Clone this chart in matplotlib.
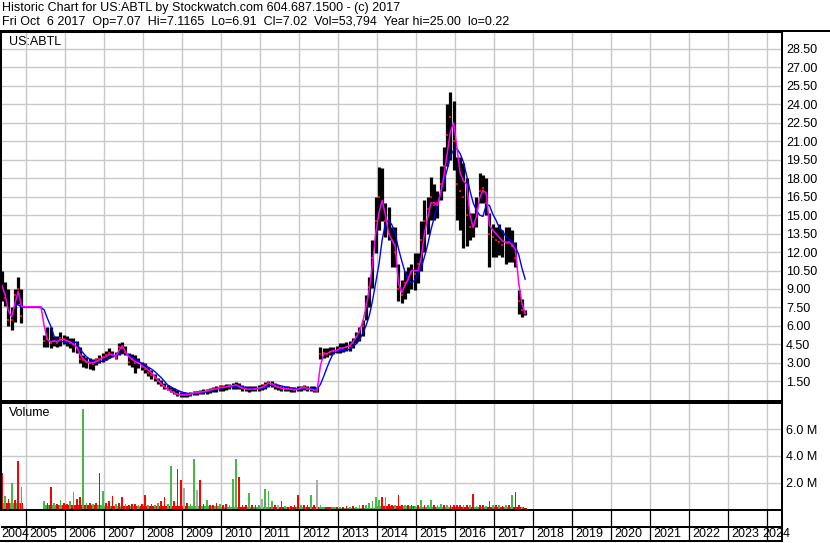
import numpy as np
import pandas as pd
import matplotlib
matplotlib.use('Agg')
import matplotlib.pyplot as plt
from matplotlib.lines import Line2D

nan = np.nan

# monthly bars, May 2004 .. Oct 2017
months = pd.date_range('2004-05-01', '2017-10-01', freq='MS')

high = [
    10.5, 9.6, 9.0, 7.5, 9.0, 10.0, 9.0, nan,
    nan, nan, nan, nan, nan, 5.3, 5.9, 5.9, 5.2, 5.2, 5.5, 5.3,
    5.2, 5.0, 5.0, 4.8, 4.3, 3.6, 3.5, 3.4, 3.3, 3.4, 3.6, 3.8,
    4.0, 4.2, 4.0, 3.9, 4.6, 4.7, 4.4, 3.8, 3.7, 3.6, 3.4, 3.1,
    3.0, 2.7, 2.4, 2.1, 1.8, 1.6, 1.4, 1.2, 1.0, 0.96, 0.8, 0.65,
    0.6, 0.55, 0.6, 0.7, 0.75, 0.8, 0.85, 0.9, 0.95, 1.0, 1.1, 1.2,
    1.2, 1.25, 1.3, 1.35, 1.42, 1.35, 1.2, 1.1, 1.1, 1.1, 1.1, 1.2,
    1.3, 1.45, 1.55, 1.5, 1.35, 1.2, 1.15, 1.1, 1.1, 1.05, 1.05, 1.1,
    1.15, 1.2, 1.15, 1.1, 1.1, 1.0, 4.3, 4.2, 4.2, 4.3, 4.3, 4.4,
    4.6, 4.6, 4.7, 4.8, 5.0, 5.5, 5.9, 6.5, 8.5, 10.0, 13.0, 16.5,
    18.9, 18.8, 16.0, 15.7, 14.0, 14.0, 11.0, 9.7, 10.5, 10.8, 11.0, 11.9,
    11.9, 14.5, 16.2, 16.5, 18.1, 17.5, 17.0, 19.0, 20.5, 24.0, 25.0, 24.3,
    19.7, 19.7, 19.2, 18.0, 15.2, 15.2, 16.5, 18.4, 18.3, 18.0, 15.2, 14.3,
    14.0, 14.3, 13.8, 14.0, 14.0, 13.8, 12.8, 8.9, 8.2, 7.3]

low = [
    8.0, 7.6, 6.0, 5.7, 6.3, 7.8, 6.2, nan,
    nan, nan, nan, nan, nan, 4.3, 4.3, 4.2, 4.4, 4.3, 4.4, 4.5,
    4.4, 4.2, 3.9, 3.8, 3.0, 2.7, 2.6, 2.5, 2.4, 2.8, 3.0, 3.1,
    3.2, 3.4, 3.5, 3.3, 3.6, 3.8, 3.6, 2.8, 2.7, 2.2, 2.6, 2.4,
    2.2, 1.9, 1.7, 1.5, 1.3, 1.1, 0.9, 0.8, 0.66, 0.45, 0.3, 0.22,
    0.22, 0.25, 0.3, 0.35, 0.4, 0.45, 0.5, 0.5, 0.55, 0.6, 0.65, 0.7,
    0.75, 0.8, 0.85, 0.9, 0.9, 0.85, 0.75, 0.7, 0.65, 0.7, 0.7, 0.75,
    0.8, 0.9, 1.0, 1.0, 0.9, 0.8, 0.75, 0.7, 0.7, 0.65, 0.65, 0.7,
    0.75, 0.8, 0.75, 0.7, 0.65, 0.6, 3.3, 3.4, 3.5, 3.6, 3.7, 3.8,
    3.8, 3.9, 4.0, 4.0, 4.2, 4.6, 4.8, 5.2, 6.5, 7.5, 9.1, 11.9,
    13.8, 14.5, 13.2, 13.0, 10.8, 10.8, 8.0, 7.9, 8.2, 8.7, 9.0, 8.9,
    9.5, 10.5, 12.0, 13.5, 14.6, 14.6, 14.8, 16.2, 17.0, 19.0, 19.5, 18.7,
    14.6, 13.8, 12.3, 12.5, 13.0, 13.2, 14.0, 16.0, 16.0, 15.0, 10.8, 11.6,
    11.6, 11.8, 11.6, 11.0, 11.2, 11.2, 10.8, 7.0, 6.7, 6.9]

close = [
    9.2, 8.3, 6.5, 6.5, 8.5, 9.0, 6.8, nan,
    nan, nan, nan, nan, nan, 4.8, 4.9, 4.6, 4.8, 4.6, 5.0, 4.9,
    4.8, 4.6, 4.5, 4.2, 3.3, 3.2, 3.1, 3.0, 2.9, 3.2, 3.3, 3.5,
    3.6, 3.8, 3.6, 3.4, 4.3, 4.2, 3.8, 3.1, 3.3, 3.0, 3.0, 2.7,
    2.5, 2.2, 2.0, 1.8, 1.5, 1.3, 1.1, 0.95, 0.8, 0.6, 0.5, 0.4,
    0.35, 0.4, 0.45, 0.55, 0.6, 0.6, 0.65, 0.7, 0.8, 0.85, 0.9, 1.0,
    1.0, 1.05, 1.1, 1.15, 1.2, 1.05, 0.95, 0.85, 0.85, 0.85, 0.9, 0.95,
    1.0, 1.2, 1.35, 1.25, 1.1, 1.0, 0.95, 0.9, 0.9, 0.85, 0.8, 0.85,
    0.95, 1.0, 0.9, 0.85, 0.8, 0.75, 3.7, 3.8, 3.7, 3.9, 4.0, 4.0,
    4.2, 4.2, 4.3, 4.4, 4.6, 5.1, 5.5, 6.0, 7.8, 9.2, 11.5, 14.5,
    16.5, 16.0, 14.5, 13.5, 13.0, 12.0, 9.0, 8.5, 9.5, 10.0, 10.3, 10.2,
    11.0, 13.0, 14.5, 15.5, 16.5, 15.8, 16.0, 17.5, 19.0, 21.5, 23.0, 21.0,
    17.5, 17.0, 16.5, 15.0, 14.0, 14.2, 15.5, 17.0, 17.2, 16.0, 13.5, 13.2,
    13.0, 12.8, 12.6, 12.7, 12.8, 12.5, 11.5, 8.0, 7.3, 7.02]

# magenta (short) and blue (long) averages
ma_short = [
    9.3, 8.5, 7.2, 6.75, 7.8, 8.8, 7.6, 7.56,
    7.56, 7.56, 7.56, 7.56, 7.56, 6.0, 4.9, 4.7, 4.8, 4.7, 4.9, 4.9,
    4.8, 4.7, 4.5, 4.3, 3.7, 3.3, 3.1, 3.05, 3.0, 3.1, 3.25, 3.4,
    3.5, 3.7, 3.7, 3.5, 4.0, 4.4, 3.9, 3.5, 3.3, 3.1, 3.0, 2.8,
    2.6, 2.4, 2.2, 1.9, 1.6, 1.3, 1.05, 0.85, 0.7, 0.55, 0.45, 0.4,
    0.4, 0.42, 0.45, 0.55, 0.6, 0.62, 0.66, 0.7, 0.8, 0.85, 0.9, 0.98,
    1.0, 1.05, 1.1, 1.15, 1.2, 1.1, 0.95, 0.88, 0.85, 0.85, 0.9, 0.95,
    1.0, 1.15, 1.35, 1.3, 1.15, 1.0, 0.95, 0.9, 0.9, 0.85, 0.82, 0.85,
    0.95, 1.0, 0.92, 0.85, 0.8, 0.78, 2.8, 3.7, 3.75, 3.9, 4.0, 4.0,
    4.2, 4.2, 4.3, 4.4, 4.7, 5.1, 5.6, 6.3, 7.5, 8.9, 11.0, 13.5,
    15.2, 16.2, 15.0, 13.5, 13.0, 12.5, 9.5, 8.7, 9.3, 9.8, 10.5, 10.5,
    10.5, 11.5, 13.5, 14.8, 16.0, 16.0, 15.8, 16.8, 18.2, 20.0, 21.8, 22.5,
    20.5, 18.4, 17.8, 17.5, 15.0, 14.0, 14.9, 16.4, 17.0, 16.8, 14.2, 13.8,
    13.5, 13.2, 12.9, 12.8, 12.8, 12.6, 12.2, 9.5, 7.8, 7.0]

ma_long = [
    nan, nan, nan, nan, 7.85, 7.7, 7.55, 7.5,
    7.5, 7.5, 7.5, 7.5, 7.5, 7.3, 6.6, 6.0, 5.2, 4.8, 4.75, 4.7,
    4.7, 4.7, 4.7, 4.65, 4.1, 3.8, 3.5, 3.3, 3.15, 3.1, 3.1, 3.15,
    3.2, 3.35, 3.5, 3.6, 3.7, 3.75, 3.75, 3.65, 3.5, 3.3, 3.15, 2.95,
    2.85, 2.65, 2.5, 2.3, 2.05, 1.8, 1.5, 1.2, 1.05, 0.9, 0.78, 0.66,
    0.58, 0.53, 0.5, 0.5, 0.5, 0.53, 0.58, 0.66, 0.72, 0.8, 0.86, 0.93,
    0.98, 1.04, 1.05, 1.06, 1.08, 1.08, 1.05, 1.0, 0.95, 0.93, 0.92, 0.92,
    0.95, 1.0, 1.1, 1.2, 1.22, 1.2, 1.12, 1.05, 1.0, 0.95, 0.92, 0.9,
    0.9, 0.92, 0.93, 0.92, 0.9, 0.88, 1.25, 1.9, 2.6, 3.25, 3.8, 3.9,
    4.0, 4.0, 4.05, 4.1, 4.3, 4.55, 4.85, 5.4, 6.0, 6.8, 8.0, 9.5,
    11.0, 13.0, 14.3, 14.6, 14.2, 13.5, 12.3, 11.3, 10.4, 9.7, 9.5, 9.7,
    10.2, 10.7, 11.6, 12.6, 13.8, 14.8, 15.8, 16.8, 17.8, 18.7, 19.8, 20.3,
    20.4, 20.0, 19.3, 18.2, 17.0, 16.0, 15.4, 15.0, 14.9, 15.8, 15.8, 15.1,
    14.6, 14.0, 13.7, 13.3, 13.1, 12.8, 12.4, 11.8, 10.7, 9.8]

# volume in millions: biggest day of each month and its colour
volume = [
    2.7, 1.0, 0.8, 2.0, 0.7, 3.6, 1.7, 0,
    0, 0, 0, 0, 0, 0.6, 0.5, 1.7, 0.5, 0.4, 0.7, 0.5,
    0.4, 0.65, 1.3, 0.75, 0.9, 7.5, 0.5, 0.5, 0.4, 0.5, 2.7, 1.4,
    0.5, 0.6, 1.0, 0.4, 0.5, 0.9, 0.4, 0.35, 0.4, 0.4, 0.35, 0.4,
    1.05, 0.35, 0.4, 0.35, 0.5, 0.6, 0.9, 0.4, 3.25, 0.6, 3.0, 2.2,
    1.6, 0.5, 0.4, 3.8, 1.45, 2.2, 0.4, 0.7, 0.35, 0.35, 0.5, 0.4,
    0.35, 0.4, 0.3, 2.3, 3.8, 2.4, 0.35, 0.3, 1.2, 0.35, 0.3, 0.35,
    0.75, 1.56, 1.4, 0.6, 0.3, 0.3, 0.6, 0.25, 0.2, 0.25, 0.3, 1.05,
    0.35, 0.3, 0.35, 1.1, 0.35, 2.2, 0.3, 0.15, 0.2, 0.15, 0.15, 0.15,
    0.2, 0.2, 0.25, 0.2, 0.25, 0.2, 0.3, 0.35, 0.3, 0.5, 0.66, 0.92,
    0.7, 0.92, 0.92, 0.4, 0.3, 0.35, 1.1, 0.3, 0.35, 0.3, 0.3, 0.25,
    0.3, 0.7, 0.35, 0.3, 0.7, 0.35, 0.3, 0.4, 0.35, 0.35, 0.3, 0.3,
    0.3, 0.35, 0.3, 0.35, 0.3, 1.15, 0.25, 0.3, 0.3, 0.25, 0.65, 0.3,
    0.3, 0.3, 0.25, 0.3, 0.35, 1.1, 1.3, 0.35, 0.2, 0.1]

volume_dir = list(
    'rgrgrrgr'
    'rrrrrgrrgrgr'
    'rggrrggrgrrg'
    'rrrgrrgrrrgr'
    'rgrggrrggrrr'
    'krggkrrgrrrg'
    'rrgggrrrgrrg'
    'kgggrkrgrrrr'
    'grrgrkggrrgr'
    'grrgrggrgggg'
    'grgrrgrrgrrg'
    'rgrggrggrgrr'
    'rrgrgrgrrgrg'
    'rgrgrgrrgr')

# typical daily volume level per year (millions)
years = list(range(2004, 2018))
base_level = [0.5, 0.3, 0.3, 0.25, 0.25, 0.25, 0.2, 0.2, 0.15, 0.12, 0.25, 0.2, 0.2, 0.2]

price_ticks = np.arange(1.5, 29.0, 1.5)
vol_ticks = [2, 4, 6]
year_lines = list(range(2005, 2025))
year_labels = [str(y) for y in range(2004, 2025)]

header1 = 'Historic Chart for US:ABTL by Stockwatch.com 604.687.1500 - (c) 2017'
header2 = ('Fri Oct  6 2017  Op=7.07  Hi=7.1165  Lo=6.91  Cl=7.02  '
           'Vol=53,794  Year hi=25.00  lo=0.22')

plt.rcParams['font.family'] = ['Liberation Sans', 'DejaVu Sans']

t = np.asarray(months.year + (months.month - 0.5) / 12.0)
high = np.array(high)
low = np.array(low)
close = np.array(close)
volume = np.array(volume)

colmap = {'g': '#44b944', 'r': '#ff0000', 'k': '#aaaaaa'}
spike_colors = [colmap[c] for c in volume_dir]
level = dict(zip(years, base_level))
base = np.minimum(volume, [level[y] for y in months.year])
prev = np.concatenate([[np.nan], close[:-1]])
base_colors = ['#ff0000' if c < p else '#44b944' for c, p in zip(close, prev)]

W, H = 830, 543
fig = plt.figure(figsize=(W / 100, H / 100), dpi=100)


def px_axes(left, top, right, bottom):
    return fig.add_axes([left / W, 1 - bottom / H, (right - left) / W, (bottom - top) / H])


xmin, xmax = 2004.351, 2024.377
grid_c = '#c8c8c8'
edge_lw = 1.45

# price panel
ax = px_axes(1, 31.5, 782, 401)
ax.set_xlim(xmin, xmax)
ax.set_ylim(-0.1, 29.92)
ax.set_yticks(price_ticks)
ax.set_yticklabels(['%.2f' % v for v in price_ticks])
ax.set_xticks(year_lines)
ax.grid(True, color=grid_c, lw=1.0)
ax.set_axisbelow(True)
ax.vlines(t, low, high, color='black', lw=2.3)
ax.plot(t, close, 's', color='red', ms=1.6, mew=0)
ax.plot(t, ma_long, color='#0000ff', lw=1.0)
ax.plot(t, ma_short, color='#ff00ff', lw=1.1)
ax.text(8 / 781, 1 - 10.5 / 369.5, 'US:ABTL', transform=ax.transAxes,
        fontsize=9, va='center', ha='left')

# volume panel
ax2 = px_axes(1, 402.5, 782, 509.5)
ax2.set_xlim(xmin, xmax)
ax2.set_ylim(0, 8.0)
ax2.set_yticks(vol_ticks)
ax2.set_yticklabels(['%.1f M' % v for v in vol_ticks])
ax2.set_xticks(year_lines)
ax2.grid(True, color=grid_c, lw=1.0)
ax2.set_axisbelow(True)
ax2.bar(t, base, width=0.083, color=base_colors, linewidth=0)
ax2.bar(t, volume, width=0.045, color=spike_colors, linewidth=0)
ax2.text(8 / 781, 1 - 11 / 107, 'Volume', transform=ax2.transAxes,
         fontsize=9, va='center', ha='left')

for a in (ax, ax2):
    a.tick_params(axis='y', left=False, right=True, labelleft=False, labelright=True,
                  length=0, pad=3.0, labelsize=9)
    a.tick_params(axis='x', length=0, labelbottom=False)
    for s in a.spines.values():
        s.set_linewidth(edge_lw)

# year strip
ax3 = px_axes(1, 509.5, 782, 541)
ax3.set_xlim(xmin, xmax)
ax3.set_ylim(0, 1)
ax3.set_xticks([])
ax3.set_yticks([])
ax3.spines['left'].set_visible(False)
for s in ('top', 'right', 'bottom'):
    ax3.spines[s].set_linewidth(edge_lw)
ax3.vlines(year_lines, 0, 1, color='black', lw=0.9)
ax3.axhline(0.444, color='black', lw=edge_lw)
for lab in year_labels:
    y = int(lab)
    if y == 2004:
        xpos = xmin
    elif y == 2024:
        xpos = y - 0.12
    else:
        xpos = y + 0.085
    ax3.text(xpos, 0.21, lab, fontsize=9, va='center', ha='left', clip_on=False)

# header
fig.text(2 / W, 1 - 8.5 / H, header1, fontsize=9, va='center', ha='left')
fig.text(2 / W, 1 - 22.5 / H, header2, fontsize=9, va='center', ha='left')
fig.add_artist(Line2D([0, 1], [1 - 31 / H] * 2, color='black', lw=edge_lw,
                      transform=fig.transFigure))

fig.savefig('out.png', dpi=100)
